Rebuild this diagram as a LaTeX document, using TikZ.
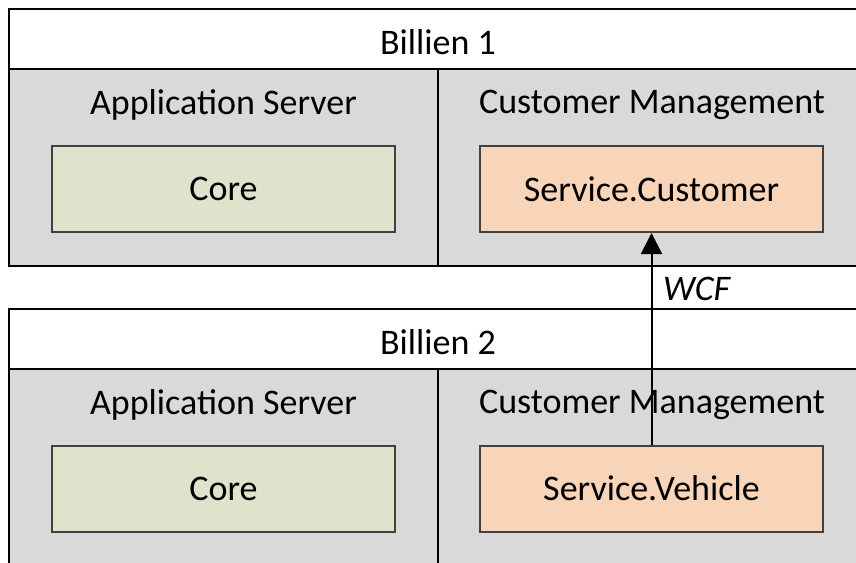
\documentclass[tikz,border=0pt]{standalone}
\usepackage{fontspec}
\setmainfont{Carlito}
\usetikzlibrary{arrows.meta}
\definecolor{panelgrey}{HTML}{D9D9D9}
\definecolor{coregreen}{HTML}{DEE3CC}
\definecolor{svcorange}{HTML}{F8D5B9}
\definecolor{boxedge}{HTML}{404040}
\tikzset{
  frame/.style={draw=black, line width=2pt},
  label/.style={font=\fontsize{36}{40}\selectfont, inner sep=0pt},
  component/.style={draw=boxedge, line width=2pt, minimum width=343pt, minimum height=86pt,
    font=\fontsize{36}{40}\selectfont, inner sep=0pt},
  corebox/.style={component, fill=coregreen},
  svcbox/.style={component, fill=svcorange},
}
\begin{document}
\begin{tikzpicture}[x=1pt,y=-1pt]
\clip (0,0) rectangle (856,562);
\fill[white] (0,0) rectangle (856,562);

% Billien 1
\fill[panelgrey] (9,69) rectangle (880,266);
\draw[frame] (9,9) rectangle (880,266);
\draw[frame] (9,69) -- (880,69);
\draw[frame] (438,69) -- (438,266);
\node[label] (t1) at (438,42) {Billien 1};
\node[label] (as1) at (223.5,105) {Application Server};
\node[label] (cm1) at (652,105) {Customer Management};
\node[corebox] (core1) at (223.5,189) {Core};
\node[svcbox] (sc) at (651.5,189) {Service.Customer};

% Billien 2
\fill[panelgrey] (9,369) rectangle (880,600);
\draw[frame] (9,309) rectangle (880,600);
\draw[frame] (9,369) -- (880,369);
\draw[frame] (438,369) -- (438,600);
\node[label] (t2) at (438,342) {Billien 2};
\node[label] (as2) at (223.5,405) {Application Server};
\node[label] (cm2) at (652,405) {Customer Management};
\node[corebox] (core2) at (223.5,488.5) {Core};
\node[svcbox] (sv) at (651.5,488.5) {Service.Vehicle};

% WCF call
\draw[line width=2pt, -{Triangle[width=21pt,length=21pt]}] (sv.north) -- (sc.south);
\node[label, anchor=west, font=\fontsize{36}{40}\selectfont\itshape] (wcf) at (663,289) {WCF};
\end{tikzpicture}
\end{document}
